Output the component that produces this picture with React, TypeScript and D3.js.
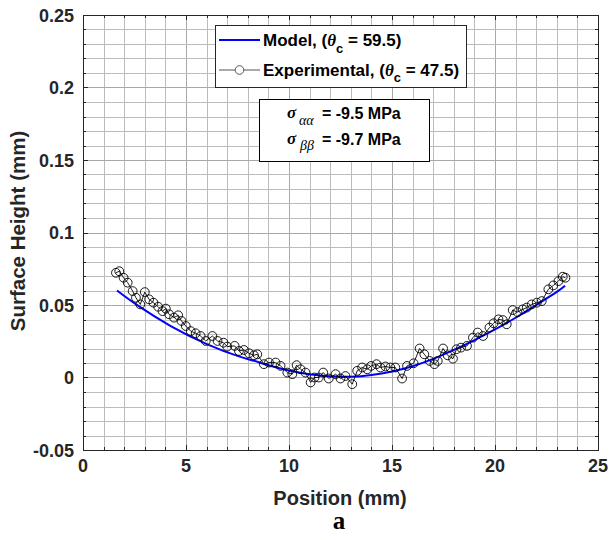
import React from 'react';
import * as d3 from 'd3';

const xTickValues = [0, 5, 10, 15, 20, 25];
const xTickLabels = ['0', '5', '10', '15', '20', '25'];
const yTickValues = [-0.05, 0, 0.05, 0.1, 0.15, 0.2, 0.25];
const yTickLabels = ['-0.05', '0', '0.05', '0.1', '0.15', '0.2', '0.25'];

const modelX = [1.65, 2.65, 4.26, 6.04, 7.5, 8.3, 9, 10, 11, 12, 13, 14, 15, 16, 17, 18, 19, 20, 21, 22, 23, 23.4];
const modelY = [0.060, 0.0497, 0.0355, 0.0229, 0.0149, 0.0115, 0.0085, 0.0048, 0.0022, 0.0008, 0.0006, 0.0018, 0.0042, 0.0078, 0.0128, 0.0190, 0.0258, 0.0332, 0.0412, 0.0500, 0.0590, 0.0632];

const expX = [
  1.60, 1.76, 1.97, 2.17, 2.41, 2.57, 2.78, 3.00, 3.21, 3.42, 3.65, 3.86, 4.02, 4.18, 4.42, 4.62, 4.78, 4.99,
  5.23, 5.47, 5.71, 5.96, 6.28, 6.53, 6.82, 7.00, 7.36, 7.57, 7.81, 8.06, 8.30, 8.46, 8.78, 9.03, 9.35, 9.59,
  9.92, 10.16, 10.37, 10.56, 10.80, 11.05, 11.24, 11.45, 11.66, 11.93, 12.26, 12.50, 12.74, 13.07, 13.31, 13.55,
  13.80, 13.99, 14.25, 14.44, 14.68, 14.92, 15.16, 15.49, 15.73, 16.05, 16.34, 16.57, 16.83, 17.06, 17.22, 17.48,
  17.70, 17.96, 18.13, 18.35, 18.64, 18.93, 19.16, 19.42, 19.73, 19.93, 20.17, 20.38, 20.57, 20.86, 21.09, 21.35,
  21.54, 21.78, 22.03, 22.27, 22.59, 22.83, 23.08, 23.29, 23.42
];
const expY = [
  0.0722, 0.0733, 0.0688, 0.0654, 0.0596, 0.0550, 0.0504, 0.0589, 0.0539, 0.0516, 0.0488, 0.0458, 0.0475, 0.0436, 0.0413, 0.0429, 0.0390, 0.0355,
  0.0320, 0.0305, 0.0286, 0.0252, 0.0286, 0.0252, 0.0240, 0.0213, 0.0218, 0.0183, 0.0190, 0.0167, 0.0153, 0.0160, 0.0092, 0.0103, 0.0103, 0.0080,
  0.0034, 0.0023, 0.0085, 0.0057, 0.0034, -0.0034, 0.0000, 0.0000, 0.0034, -0.0007, 0.0023, -0.0007, 0.0010, -0.0046, 0.0046, 0.0069,
  0.0057, 0.0080, 0.0092, 0.0069, 0.0076, 0.0069, 0.0069, -0.0007, 0.0080, 0.0098, 0.0200, 0.0160, 0.0114, 0.0092, 0.0114, 0.0200,
  0.0153, 0.0130, 0.0195, 0.0206, 0.0218, 0.0275, 0.0310, 0.0286, 0.0344, 0.0374, 0.0401, 0.0396, 0.0367, 0.0465, 0.0451, 0.0470,
  0.0482, 0.0504, 0.0516, 0.0527, 0.0608, 0.0635, 0.0665, 0.0695, 0.0688
];

const SANS = 'Liberation Sans, Arial, Helvetica, sans-serif';
const SERIF = 'Liberation Serif, Times New Roman, serif';
const TXT = '#262626';

export default function App() {
  const W = 610, H = 540;
  const left = 83, right = 598, top = 15, bottom = 450;
  const x = d3.scaleLinear().domain([0, 25]).range([left, right]);
  const y = d3.scaleLinear().domain([-0.05, 0.25]).range([bottom, top]);
  const crisp = (v: number) => Math.round(v) + 0.5;

  const minorX = d3.range(0, 26).map((i) => i);
  const minorY = d3.range(0, 31).map((i) => -0.05 + i * 0.01);

  const modelLine = d3.line<number>()
    .x((_, i) => x(modelX[i]))
    .y((d) => y(d))
    .curve(d3.curveNatural);
  const expLine = d3.line<number>()
    .x((_, i) => x(expX[i]))
    .y((d) => y(d));

  return (
    <svg width={W} height={H} style={{ position: 'absolute', left: 0, top: 0, background: '#fff' }}>
      <rect x={0} y={0} width={W} height={H} fill="#fff" />
      {/* grid */}
      <g>
        {minorX.map((v) => (
          <line key={'gx' + v} x1={crisp(x(v))} x2={crisp(x(v))} y1={top} y2={bottom}
            stroke={v % 5 === 0 ? '#a8a8a8' : '#bcbcbc'} strokeWidth={1} />
        ))}
        {minorY.map((v, i) => (
          <line key={'gy' + i} x1={left} x2={right} y1={crisp(y(v))} y2={crisp(y(v))}
            stroke={i % 5 === 0 ? '#a8a8a8' : '#bcbcbc'} strokeWidth={1} />
        ))}
      </g>
      {/* ticks */}
      <g stroke={TXT} strokeWidth={1}>
        {minorX.map((v) => {
          const len = v % 5 === 0 ? 5 : 3;
          const xx = crisp(x(v));
          return (
            <g key={'tx' + v}>
              <line x1={xx} x2={xx} y1={bottom} y2={bottom - len} />
              <line x1={xx} x2={xx} y1={top} y2={top + len} />
            </g>
          );
        })}
        {minorY.map((v, i) => {
          const len = i % 5 === 0 ? 5 : 3;
          const yy = crisp(y(v));
          return (
            <g key={'ty' + i}>
              <line x1={left} x2={left + len} y1={yy} y2={yy} />
              <line x1={right} x2={right - len} y1={yy} y2={yy} />
            </g>
          );
        })}
      </g>
      {/* box */}
      <rect x={crisp(left)} y={crisp(top)} width={Math.round(right) - Math.round(left)} height={Math.round(bottom) - Math.round(top)}
        fill="none" stroke={TXT} strokeWidth={1} />

      {/* model */}
      <path d={modelLine(modelY) || ''} fill="none" stroke="#0000ff" strokeWidth={2} />
      {/* experimental */}
      <path d={expLine(expY) || ''} fill="none" stroke="#000" strokeWidth={0.9} />
      {expY.map((v, i) => (
        <circle key={'p' + i} cx={x(expX[i])} cy={y(v)} r={4.4} fill="none" stroke="#000" strokeWidth={0.9} />
      ))}

      {/* tick labels */}
      <g fontFamily={SANS} fontWeight="bold" fontSize={18} fill={TXT}>
        {xTickValues.map((v, i) => (
          <text key={'xl' + i} x={x(v)} y={bottom + 22} textAnchor="middle">{xTickLabels[i]}</text>
        ))}
        {yTickValues.map((v, i) => (
          <text key={'yl' + i} x={left - 9} y={y(v) + 6.5} textAnchor="end">{yTickLabels[i]}</text>
        ))}
      </g>
      {/* axis labels */}
      <text x={340} y={505} textAnchor="middle" fontFamily={SANS} fontWeight="bold" fontSize={20} fill={TXT}>Position (mm)</text>
      <text transform="translate(25,231) rotate(-90)" textAnchor="middle" fontFamily={SANS} fontWeight="bold" fontSize={20.5} fill={TXT}>Surface Height (mm)</text>
      <text x={339} y={529} textAnchor="middle" fontFamily={SERIF} fontWeight="bold" fontSize={25} fill="#000">a</text>

      {/* legend */}
      <rect x={215.5} y={25.5} width={251} height={62} fill="#fff" stroke={TXT} strokeWidth={1} />
      <line x1={219} x2={260} y1={40} y2={40} stroke="#0000ff" strokeWidth={2} />
      <line x1={219} x2={260} y1={70} y2={70} stroke="#555" strokeWidth={1} />
      <circle cx={239.5} cy={70} r={4.3} fill="#fff" stroke="#444" strokeWidth={0.9} />
      <text x={263} y={46} fontFamily={SANS} fontWeight="bold" fontSize={17} fill="#000">
        Model, (<tspan fontFamily={SERIF} fontStyle="italic">θ</tspan>
        <tspan fontSize={13} dy={6.5}>c</tspan>
        <tspan dy={-6.5}> = 59.5)</tspan>
      </text>
      <text x={263} y={75.5} fontFamily={SANS} fontWeight="bold" fontSize={17} fill="#000">
        Experimental, (<tspan fontFamily={SERIF} fontStyle="italic">θ</tspan>
        <tspan fontSize={13} dy={6.5}>c</tspan>
        <tspan dy={-6.5}> = 47.5)</tspan>
      </text>

      {/* annotation */}
      <rect x={259.5} y={99.5} width={170} height={62} fill="#fff" stroke="#000" strokeWidth={1} />
      <text x={287} y={118} fontFamily={SERIF} fontStyle="italic" fontWeight="bold" fontSize={17} fill="#000">σ</text>
      <text x={299} y={125} fontFamily={SERIF} fontStyle="italic" fontSize={14} fill="#000">αα</text>
      <text x={322} y={119} fontFamily={SANS} fontWeight="bold" fontSize={16} fill="#000">= -9.5 MPa</text>
      <text x={287} y={144} fontFamily={SERIF} fontStyle="italic" fontWeight="bold" fontSize={17} fill="#000">σ</text>
      <text x={300} y={150} fontFamily={SERIF} fontStyle="italic" fontSize={14} fill="#000">ββ</text>
      <text x={322} y={145} fontFamily={SANS} fontWeight="bold" fontSize={16} fill="#000">= -9.7 MPa</text>
    </svg>
  );
}
